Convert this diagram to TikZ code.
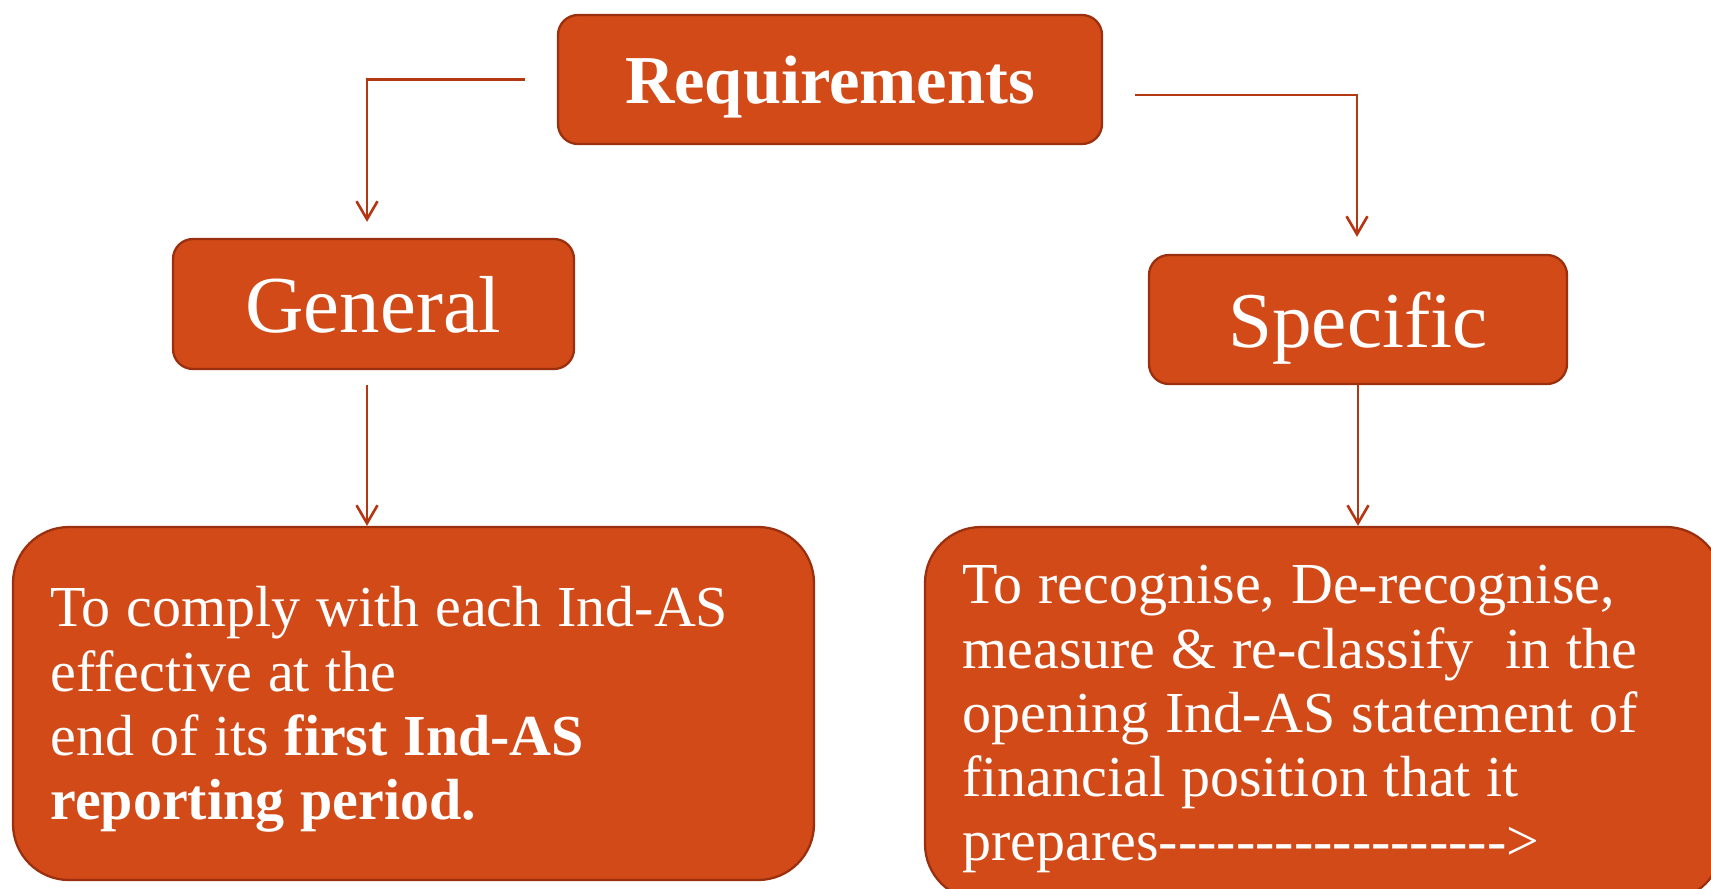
\documentclass[tikz,border=0pt]{standalone}
\usepackage{fontspec}
\setmainfont{Liberation Serif}
\usetikzlibrary{arrows.meta,calc}
\definecolor{boxfill}{RGB}{209,74,24}
\definecolor{boxline}{RGB}{155,48,15}
\definecolor{linkred}{RGB}{180,55,20}

\begin{document}
\begin{tikzpicture}[
  head/.style={rectangle, rounded corners=0.4cm, draw=boxline, fill=boxfill, line width=1.3pt,
    text=white, minimum height=2.58cm, inner sep=0pt, text depth=0pt},
  body/.style={rectangle, rounded corners=1.12cm, draw=boxline, fill=boxfill, line width=1.3pt,
    text=white, align=left, text width=#1, inner xsep=0.75cm, inner ysep=0pt,
    font=\fontsize{33}{36.6}\selectfont, execute at begin node={\spaceskip=9pt plus 1pt minus 1pt\relax}},
  link/.style={draw=linkred, line width=1.5pt, -{Straight Barb[length=0.36cm,width=0.42cm]}}]
  \useasboundingbox (0,0) rectangle (34.22,-17.78);
  \clip (0,0) rectangle (34.22,-17.78);

  % top level and the two kinds
  \node[head, minimum width=10.88cm, font=\bfseries\fontsize{39}{42}\selectfont] (req) at (16.6,-1.59) {Requirements};
  \node[head, minimum width=8.02cm, minimum height=2.6cm, font=\fontsize{46}{50}\selectfont] (gen) at (7.47,-6.08) {General};
  \node[head, minimum width=8.36cm, font=\fontsize{45}{50}\selectfont] (spec) at (27.16,-6.39) {Specific};

  % what each one asks for
  \node[body=14.52cm, minimum height=7.06cm] (genbody) at (8.27,-14.07)
    {\rule{0pt}{1.05cm}To comply with each Ind-AS\\ effective at the\\ end of its \textbf{first Ind-AS}\\ \textbf{reporting period.}};
  \node[body=14.44cm, minimum height=7.46cm] (specbody) at (26.47,-14.27)
    {\rule{0pt}{1.0cm}To recognise, De-recognise,\\ measure \& re-classify\ \ in the\\ opening Ind-AS statement of\\ financial position that it\\
     prepares-{}-{}-{}-{}-{}-{}-{}-{}-{}-{}-{}-{}-{}-{}-{}-{}-{}-{}>};

  % connectors
  \coordinate (reqL) at ($(req.west)+(-0.64,0)$);
  \coordinate (reqR) at ($(req.east)+(0.64,-0.31)$);
  \coordinate (genIn) at ($(gen.north)+(-0.13,0.32)$);
  \coordinate (specIn) at ($(spec.north)+(-0.02,0.34)$);
  \coordinate (genOut) at ($(gen.south)+(-0.13,-0.3)$);
  \draw[link] (reqL) -| (genIn);
  \draw[link] (reqR) -| (specIn);
  \draw[link] (genOut) -- (genOut |- genbody.north);
  \draw[link] (spec.south) -- (spec.south |- specbody.north);
\end{tikzpicture}
\end{document}
